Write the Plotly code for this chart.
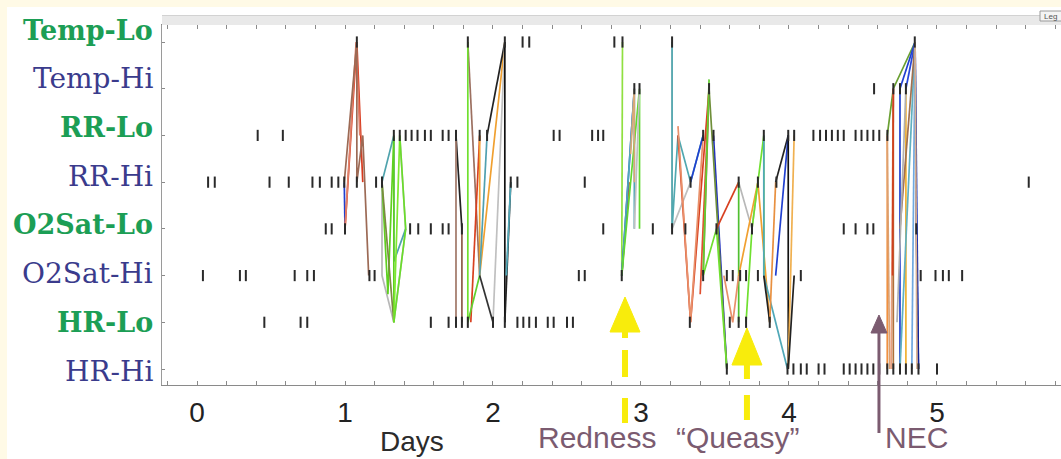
import plotly.graph_objects as go

# ---------------- data ----------------
row_labels = ["HR-Hi", "HR-Lo", "O2Sat-Hi", "O2Sat-Lo", "RR-Hi", "RR-Lo", "Temp-Hi", "Temp-Lo"]
row_values = [1, 2, 3, 4, 5, 6, 7, 8]
x_tick_vals = [0, 1, 2, 3, 4, 5]
x_tick_labels = ["0", "1", "2", "3", "4", "5"]

ticks_temp_lo = [1.08, 1.83, 2.08, 2.20, 2.245, 2.82, 2.875, 3.21, 4.85]
ticks_temp_hi = [2.955, 2.99, 3.46, 4.575, 4.705, 4.75, 4.79]
ticks_rr_lo = [0.41, 0.58, 1.33, 1.37, 1.41, 1.45, 1.49, 1.54, 1.58, 1.66, 1.70, 1.75,
               1.91, 1.96, 2.41, 2.45, 2.67, 2.71, 2.745, 3.42, 3.49, 3.83, 3.995, 4.035,
               4.165, 4.21, 4.25, 4.29, 4.33, 4.37, 4.45, 4.49, 4.53, 4.57, 4.61, 4.665]
ticks_rr_hi = [0.075, 0.12, 0.49, 0.62, 0.78, 0.83, 0.91, 0.955, 0.995, 1.08, 1.21, 1.25,
               2.12, 2.165, 2.62, 3.335, 3.66, 3.79, 3.915, 5.62]
ticks_o2_lo = [0.87, 0.91, 1.0, 1.44, 1.495, 1.58, 1.66, 1.70, 1.79, 2.745, 3.08, 3.21,
               3.30, 3.51, 3.75, 4.37, 4.45, 4.53, 4.57, 4.86]
ticks_o2_hi = [0.04, 0.29, 0.33, 0.66, 0.745, 0.79, 1.165, 1.20, 2.58, 2.62, 2.87, 3.42,
               3.58, 3.62, 3.67, 3.71, 3.79, 4.08, 4.89, 4.99, 5.04, 5.08, 5.17]
ticks_hr_lo = [0.455, 0.70, 0.745, 1.58, 1.70, 1.75, 1.79, 1.83, 2.0, 2.08, 2.165, 2.205,
               2.245, 2.29, 2.37, 2.41, 2.50, 2.54, 3.33, 3.60, 3.66, 3.71, 3.87]
ticks_hr_hi = [3.58, 3.99, 4.03, 4.08, 4.12, 4.20, 4.24, 4.37, 4.41, 4.45, 4.49, 4.53,
               4.57, 4.61, 4.664, 4.705, 4.75, 4.79, 4.83, 4.875, 5.0]

# colored event sequences: (colour, days, rows)
paths = [
    # ~day 1
    ("#2040d0", [0.995, 1.0], [5, 4]),
    ("#d83a1e", [1.0, 1.08, 1.12], [4, 8, 5]),
    ("#e0806a", [1.0, 1.075, 1.10], [4, 8, 6]),
    ("#9c6a55", [0.995, 1.08, 1.08, 1.12, 1.16], [5, 8, 5, 6, 3]),
    # ~day 1.3
    ("#b8b8b8", [1.25, 1.25, 1.33, 1.41, 1.37], [5, 3, 2, 4, 6]),
    ("#4fa3ad", [1.25, 1.33, 1.33, 1.41], [5, 6, 3.3, 4]),
    ("#5fd020", [1.25, 1.29, 1.33, 1.33], [5, 2.6, 6, 2]),
    ("#7a8a40", [1.25, 1.33], [5, 2]),
    ("#7ee830", [1.37, 1.33], [6, 2]),
    ("#6add2a", [1.37, 1.41, 1.33], [6, 4, 2]),
    # ~day 1.8-2.1
    ("#222222", [1.75, 1.79], [6, 4]),
    ("#a07868", [1.75, 1.75], [6, 2]),
    ("#8c5a48", [1.79, 1.79], [4, 2]),
    ("#9c7060", [1.83, 1.91], [8, 3]),
    ("#70e030", [1.83, 1.83], [8, 2]),
    ("#d84020", [1.91, 1.85], [6, 2]),
    ("#f0a030", [1.91, 1.91, 2.08], [6, 3, 8]),
    ("#50a0b0", [1.96, 1.91], [6, 3]),
    ("#222222", [1.96, 2.08], [6, 8]),
    ("#60d030", [1.83, 1.91], [2, 3]),
    ("#333333", [1.91, 2.0], [3, 2]),
    ("#c0c0c0", [2.08, 2.0], [8, 2]),
    ("#111111", [2.08, 2.08], [8, 2]),
    ("#222222", [2.12, 2.08], [5, 2]),
    ("#50a8b8", [2.12, 2.09], [5, 3]),
    # ~day 2.9
    ("#90e040", [2.875, 2.87], [8, 3]),
    ("#d85030", [2.87, 2.92], [3, 5]),
    ("#2050d0", [2.87, 2.955], [3, 7]),
    ("#50a8b8", [2.87, 2.955, 2.955], [3, 7, 4]),
    ("#60d830", [2.87, 2.99, 2.99], [3, 7, 4]),
    ("#d8a878", [2.93, 2.955, 2.955], [5.6, 7, 5]),
    ("#c0c0c0", [2.955, 2.99], [4, 7]),
    # ~day 3.2-4.05
    ("#c0c0c0", [3.21, 3.21, 3.335], [8, 4, 5]),
    ("#50a8b0", [3.21, 3.21, 3.25, 3.335, 3.42], [8, 4, 6, 5, 6]),
    ("#d84020", [3.25, 3.335, 3.46], [6, 2, 7]),
    ("#e8906a", [3.25, 3.335, 3.42], [6.2, 2, 6]),
    ("#2040d0", [3.335, 3.42], [5, 6]),
    ("#9c6a55", [3.42, 3.46], [3, 7]),
    ("#e05030", [3.40, 3.46], [2.6, 7]),
    ("#60d030", [3.42, 3.46], [3, 7.2]),
    ("#2030c0", [3.49, 3.58], [6, 1]),
    ("#6f8f3a", [3.46, 3.58], [7, 1]),
    ("#d84020", [3.51, 3.66], [4, 5]),
    ("#70e030", [3.42, 3.51, 3.58], [3, 4, 1]),
    ("#b8b8b8", [3.66, 3.75, 3.79], [5, 4, 5]),
    ("#50c030", [3.66, 3.66], [5, 2]),
    ("#e8906a", [3.56, 3.62, 3.66], [3, 2, 3]),
    ("#f0a030", [3.66, 3.79, 3.87], [3, 5, 2]),
    ("#70e030", [3.71, 3.75, 3.83, 3.83], [2, 4, 6, 3]),
    ("#50a8b8", [3.83, 3.83, 3.99], [6, 3, 1]),
    ("#222222", [3.83, 3.87], [3, 2]),
    ("#222222", [3.91, 3.995], [5, 6]),
    ("#2040d0", [3.91, 3.995], [3, 6]),
    ("#e89040", [3.91, 3.87], [5, 2]),
    ("#111111", [3.995, 3.995], [6, 1]),
    ("#f0b050", [3.995, 4.035], [1, 6]),
    ("#222222", [4.035, 3.995], [3, 1]),
    # ~day 4.7-4.9
    ("#6aa032", [4.664, 4.705, 4.852], [6, 7, 8]),
    ("#f09040", [4.664, 4.664], [6, 1]),
    ("#dca070", [4.664, 4.68], [6, 1]),
    ("#e8a080", [4.705, 4.69], [7, 1]),
    ("#b0703a", [4.705, 4.705], [7, 1]),
    ("#d04020", [4.705, 4.70], [7, 3]),
    ("#2040d0", [4.75, 4.852], [7, 8]),
    ("#2040d0", [4.75, 4.75], [7, 1]),
    ("#2848d8", [4.79, 4.852], [7, 8]),
    ("#f0b030", [4.79, 4.79], [7, 1]),
    ("#60b0c0", [4.852, 4.75], [8, 1]),
    ("#a07050", [4.852, 4.75], [8, 4]),
    ("#1030c0", [4.852, 4.875], [8, 1]),
    ("#102090", [4.852, 4.86, 4.875], [8, 4, 1]),
    ("#70a8e0", [4.852, 4.83], [8, 1]),
    ("#d8b090", [4.852, 4.865], [8, 1]),
    ("#b0b0b0", [4.79, 4.73], [7, 2]),
]

event_labels = ["Redness", "\u201cQueasy\u201d", "NEC"]
event_days = [2.892, 3.716, 4.608]
event_label_days = [2.70, 3.655, 4.86]

# ---------------- layout geometry ----------------
W, H = 1061, 459
ML, MT, MB, MR = 162, 25, 74, 0
PW, PH = W - ML - MR, H - MT - MB
X0, X1 = -0.2365, 5.838
Y0, Y1 = 0.6575, 8.364


def px_x(p):
    return (p - ML) / PW


def px_y(p):
    return (MT + PH - p) / PH


GREEN = "#1c9e55"
NAVY = "#3a3b8c"
MAUVE = "#7b5b70"
YELLOW = "#F8EC0C"

fig = go.Figure()

for color, xs, ys in paths:
    fig.add_trace(go.Scatter(x=xs, y=ys, mode="lines",
                             line=dict(color=color, width=1.7),
                             hoverinfo="skip", showlegend=False))

tick_rows = [ticks_hr_hi, ticks_hr_lo, ticks_o2_hi, ticks_o2_lo,
             ticks_rr_hi, ticks_rr_lo, ticks_temp_hi, ticks_temp_lo]
tx, ty = [], []
for r, lst in zip(row_values, tick_rows):
    tx += lst
    ty += [r] * len(lst)
fig.add_trace(go.Scatter(x=tx, y=ty, mode="markers",
                         marker=dict(symbol="line-ns", size=8,
                                     line=dict(color="#2a2a2a", width=2)),
                         hoverinfo="skip", showlegend=False))

shapes = []
# white panel
shapes.append(dict(type="rect", xref="paper", yref="paper", layer="below",
                   x0=px_x(7), x1=px_x(W + 5), y0=px_y(H + 5), y1=px_y(7),
                   fillcolor="white", line=dict(width=0)))
# top grey bar
shapes.append(dict(type="rect", xref="paper", yref="paper",
                   x0=px_x(ML), x1=px_x(W + 5), y0=px_y(25), y1=px_y(15),
                   fillcolor="#e9e9e9", line=dict(width=0)))
shapes.append(dict(type="line", xref="paper", yref="paper",
                   x0=px_x(ML), x1=px_x(W + 5), y0=px_y(15.5), y1=px_y(15.5),
                   line=dict(color="#d2d2d2", width=1)))
# "Legend" button stub
shapes.append(dict(type="rect", xref="paper", yref="paper",
                   x0=px_x(1040), x1=px_x(W + 5), y0=px_y(21), y1=px_y(11),
                   fillcolor="#f4f4f4", line=dict(color="#9a9a9a", width=1)))

# yellow arrows
yellow_specs = [
    (event_days[0], 297, 332, [(330, 338), (350, 377), (398, 423)]),
    (event_days[1], 328, 365, [(362, 379), (395, 420)]),
]
half = 15 / (PW / (X1 - X0))
for d, tip, base, dashes in yellow_specs:
    shapes.append(dict(type="path", xref="x", yref="paper",
                       path=f"M {d},{px_y(tip)} L {d - half},{px_y(base)} L {d + half},{px_y(base)} Z",
                       fillcolor=YELLOW, line=dict(color=YELLOW, width=1)))
    for a, b in dashes:
        shapes.append(dict(type="line", xref="x", yref="paper",
                           x0=d, x1=d, y0=px_y(a), y1=px_y(b),
                           line=dict(color=YELLOW, width=6)))

# mauve NEC arrow
dn = event_days[2]
halfn = 8 / (PW / (X1 - X0))
shapes.append(dict(type="line", xref="x", yref="paper", x0=dn, x1=dn,
                   y0=px_y(330), y1=px_y(433), line=dict(color=MAUVE, width=3)))
shapes.append(dict(type="path", xref="x", yref="paper",
                   path=f"M {dn},{px_y(315)} L {dn - halfn},{px_y(333)} L {dn + halfn},{px_y(333)} Z",
                   fillcolor=MAUVE, line=dict(color=MAUVE, width=1)))

annotations = []
# row labels
for r, lab in zip(row_values, row_labels):
    is_lo = lab.endswith("Lo")
    shift = 12 - (8 - r) * 2.0
    annotations.append(dict(
        x=px_x(155), xref="paper", y=r, yref="y", yshift=shift,
        xanchor="right", yanchor="middle", showarrow=False,
        text=f"<b>{lab}</b>" if is_lo else lab,
        font=dict(family="DejaVu Serif", size=27 if is_lo else 28,
                  color=GREEN if is_lo else NAVY)))
# event labels
for lab, d in zip(event_labels, event_label_days):
    annotations.append(dict(x=d, xref="x", y=px_y(437), yref="paper",
                            xanchor="center", yanchor="middle", showarrow=False,
                            text=lab, font=dict(family="Liberation Sans, Arial", size=30, color=MAUVE)))
# axis title
annotations.append(dict(x=px_x(412), xref="paper", y=px_y(442), yref="paper",
                        xanchor="center", yanchor="middle", showarrow=False,
                        text="Days", font=dict(family="Liberation Sans, Arial", size=28, color="#2b2b2b")))
annotations.append(dict(x=px_x(1042), xref="paper", y=px_y(16), yref="paper",
                        xanchor="left", yanchor="middle", showarrow=False,
                        text="Leg", font=dict(family="Liberation Sans, Arial", size=8, color="#555")))

minor_vals = [round(-0.2 + 0.2 * i, 1) for i in range(31)]
minor_text = [x_tick_labels[x_tick_vals.index(int(v))] if float(v).is_integer() and int(v) in x_tick_vals else ""
              for v in minor_vals]

fig.update_layout(
    width=W, height=H,
    margin=dict(l=ML, r=MR, t=MT, b=MB, pad=0),
    paper_bgcolor="#FFFAE6",
    plot_bgcolor="white",
    shapes=shapes,
    annotations=annotations,
    showlegend=False,
    xaxis=dict(range=[X0, X1], tickmode="array", tickvals=minor_vals, ticktext=minor_text,
               ticks="inside", ticklen=4, tickcolor="#8a8a8a", showline=True,
               linecolor="#8a8a8a", linewidth=1, mirror="ticks", showgrid=False,
               zeroline=False, tickfont=dict(family="Liberation Sans, Arial", size=28, color="#222"),
               ticklabelstandoff=2),
    yaxis=dict(range=[Y0, Y1], tickmode="array", tickvals=row_values,
               ticktext=["" for _ in row_values], ticks="inside", ticklen=3,
               tickcolor="#8a8a8a", showline=True, linecolor="#9a9a9a", linewidth=1,
               showgrid=False, zeroline=False),
)

fig.write_html("out.html")
